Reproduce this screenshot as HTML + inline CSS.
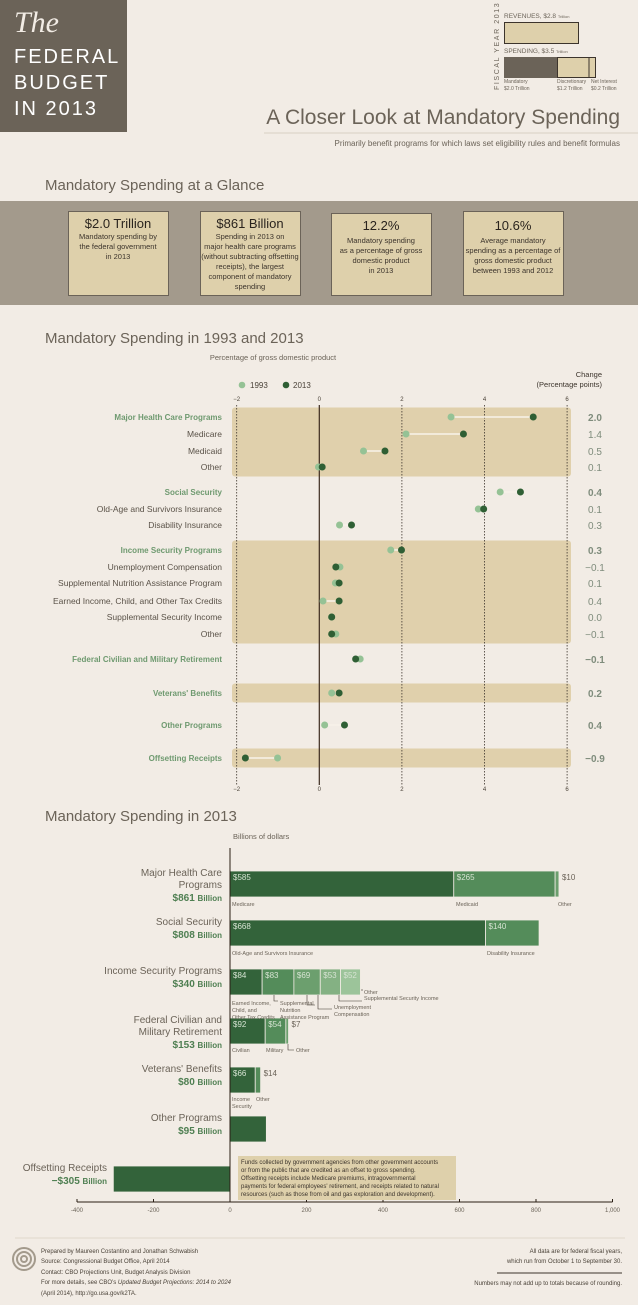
<!DOCTYPE html>
<html><head><meta charset="utf-8"><style>
html,body{margin:0;padding:0;background:#f2ece5;}
svg{display:block;font-family:"Liberation Sans Narrow","Liberation Sans",sans-serif;}
</style></head><body>
<svg id="s" width="638" height="1305" viewBox="0 0 638 1305" xmlns="http://www.w3.org/2000/svg">
<rect x="0" y="0" width="638" height="1305" fill="#f2ece5"/>
<g>
<rect x="0" y="0" width="127" height="132" fill="#6b6358"/>
<text x="14" y="32" font-family="Liberation Serif,serif" font-style="italic" font-size="30" fill="#f2ece5">The</text>
<text x="14" y="63" font-size="20" fill="#fff" letter-spacing="2" font-family="Liberation Sans,sans-serif">FEDERAL</text>
<text x="14" y="89" font-size="20" fill="#fff" letter-spacing="2" font-family="Liberation Sans,sans-serif">BUDGET</text>
<text x="14" y="115" font-size="20" fill="#fff" letter-spacing="2" font-family="Liberation Sans,sans-serif">IN 2013</text>
</g>
<g font-size="5.5" fill="#6b6358">
<text transform="translate(499,90) rotate(-90)" font-size="7" letter-spacing="1.6" fill="#6b6358">FISCAL YEAR 2013</text>
<text x="504" y="18" font-size="6.5">REVENUES, $2.8 <tspan font-size="4">Trillion</tspan></text>
<rect x="504.5" y="22.5" width="74" height="21" fill="#ded0ab" stroke="#3c342c" stroke-width="1"/>
<text x="504" y="53" font-size="6.5">SPENDING, $3.5 <tspan font-size="4">Trillion</tspan></text>
<rect x="504" y="57" width="53" height="21" fill="#6b6358"/>
<rect x="557.5" y="57.5" width="38" height="20" fill="#ded0ab" stroke="#3c342c"/>
<line x1="589" y1="57" x2="589" y2="78" stroke="#3c342c"/>
<text x="504" y="83" font-size="5">Mandatory</text><text x="504" y="90" font-size="5">$2.0 Trillion</text>
<text x="557" y="83" font-size="5">Discretionary</text><text x="557" y="90" font-size="5">$1.2 Trillion</text>
<text x="591" y="83" font-size="5">Net Interest</text><text x="591" y="90" font-size="5">$0.2 Trillion</text>
</g>
<text x="620" y="124" text-anchor="end" font-size="21" fill="#6b6358">A Closer Look at Mandatory Spending</text>
<line x1="264" y1="133" x2="638" y2="133" stroke="#d8cfc4"/>
<text x="620" y="146" text-anchor="end" font-size="8" fill="#6b6358">Primarily benefit programs for which laws set eligibility rules and benefit formulas</text>

<text x="45" y="190" font-size="15" fill="#6b6358">Mandatory Spending at a Glance</text>
<rect x="0" y="201" width="638" height="104" fill="#a39a8c"/>
<g id="cards" font-size="7.5" fill="#3c342c" text-anchor="middle"></g>

<text x="45" y="343" font-size="15" fill="#6b6358">Mandatory Spending in 1993 and 2013</text>
<text x="273" y="360" text-anchor="middle" font-size="7.5" fill="#6b6358">Percentage of gross domestic product</text>
<g id="dot"></g>

<text x="45" y="821" font-size="15" fill="#6b6358">Mandatory Spending in 2013</text>
<text x="233" y="839" font-size="7.5" fill="#6b6358">Billions of dollars</text>
<g id="bar"></g>

<line x1="15" y1="1238" x2="625" y2="1238" stroke="#e0d8cc"/>
<g fill="none" stroke="#a39a8c" stroke-width="2">
<circle cx="24" cy="1259" r="11"/><circle cx="24" cy="1259" r="7"/><circle cx="24" cy="1259" r="3"/>
</g>
<g font-size="6" fill="#4a4238">
<text x="41" y="1253">Prepared by Maureen Costantino and Jonathan Schwabish</text>
<text x="41" y="1263">Source: Congressional Budget Office, April 2014</text>
<text x="41" y="1274">Contact: CBO Projections Unit, Budget Analysis Division</text>
<text x="41" y="1284">For more details, see CBO’s <tspan font-style="italic">Updated Budget Projections: 2014 to 2024</tspan></text>
<text x="41" y="1295">(April 2014), http://go.usa.gov/k2TA.</text>
</g>
<g font-size="6" fill="#4a4238" text-anchor="end">
<text x="622" y="1253">All data are for federal fiscal years,</text>
<text x="622" y="1263">which run from October 1 to September 30.</text>
<line x1="497" y1="1273" x2="622" y2="1273" stroke="#3c342c"/>
<text x="622" y="1285">Numbers may not add up to totals because of rounding.</text>
</g>
</svg>
<script>
var NS="http://www.w3.org/2000/svg";
function mk(p,tag,at,txt){var e=document.createElementNS(NS,tag);for(var k in at)e.setAttribute(k,at[k]);if(txt!=null)e.textContent=txt;p.appendChild(e);return e;}

var cardTitles=["$2.0 Trillion","$861 Billion","12.2%","10.6%"];
var cardLines=[["Mandatory spending by","the federal government","in 2013"],["Spending in 2013 on","major health care programs","(without subtracting offsetting","receipts), the largest","component of mandatory","spending"],["Mandatory spending","as a percentage of gross","domestic product","in 2013"],["Average mandatory","spending as a percentage of","gross domestic product","between 1993 and 2012"]];
var cardX=[68,200,331,463],cardTop=[211,211,213,211];
var cg=document.getElementById('cards');
for(var i=0;i<4;i++){
  var g=mk(cg,'g',{});
  
  
  mk(g,'rect',{x:cardX[i]+0.5,y:cardTop[i]+0.5,width:100,height:84-(cardTop[i]-211),fill:'#ded0ab',stroke:'#6b6358'});
  var ty=i<2?228:230;
  mk(g,'text',{x:cardX[i]+50,y:ty,'font-size':13,fill:'#2a241e'},cardTitles[i]);
  for(var j=0;j<cardLines[i].length;j++) mk(g,'text',{x:cardX[i]+50,y:ty+11+j*10+(i>=2?2:0)},cardLines[i][j]);
}

var dotLabels=["Major Health Care Programs","Medicare","Medicaid","Other","Social Security","Old-Age and Survivors Insurance","Disability Insurance","Income Security Programs","Unemployment Compensation","Supplemental Nutrition Assistance Program","Earned Income, Child, and Other Tax Credits","Supplemental Security Income","Other","Federal Civilian and Military Retirement","Veterans' Benefits","Other Programs","Offsetting Receipts"];
var dotMajor=[1,0,0,0,1,0,0,1,0,0,0,0,0,1,1,1,1];
var v1993=[3.19,2.1,1.07,-0.02,4.38,3.85,0.49,1.73,0.5,0.39,0.09,0.3,0.4,0.99,0.3,0.13,-1.01];
var v2013=[5.18,3.49,1.59,0.07,4.87,3.98,0.78,1.99,0.4,0.48,0.48,0.3,0.3,0.88,0.48,0.61,-1.79];
var changeLabels=["2.0","1.4","0.5","0.1","0.4","0.1","0.3","0.3","\u22120.1","0.1","0.4","0.0","\u22120.1","\u22120.1","0.2","0.4","\u22120.9"];
var dotTicks=[-2,0,2,4,6];
var rowY=[417,434,451,467,492,509,525,550,567,583,601,617,634,659,693,725,758];
var bands=[[0,3],[7,12],[14,14],[16,16]];
function dx(v){return 319.3+v*41.3;}
var dg=document.getElementById('dot');
bands.forEach(function(b){
  var r=mk(dg,'rect',{x:232,y:rowY[b[0]]-9.5,width:339,height:rowY[b[1]]-rowY[b[0]]+19,rx:3,fill:'#e0d0ac'});
  
  
});
dotTicks.forEach(function(t){
  var l=mk(dg,'line',{x1:dx(t),x2:dx(t),y1:405,y2:785,stroke:t==0?'#3c2a1e':'#3c342c','stroke-width':t==0?1.2:0.8,'stroke-dasharray':t==0?'none':'1.5,1.5'});
  
  
  var a=mk(dg,'text',{x:dx(t),y:401,'font-size':6,'text-anchor':'middle',fill:'#4a4238'},t<0?'\u2212'+(-t):''+t);
  
  
  var b=mk(dg,'text',{x:dx(t),y:791,'font-size':6,'text-anchor':'middle',fill:'#4a4238'},t<0?'\u2212'+(-t):''+t);
  
  
});
var lg=mk(dg,'g',{'font-size':8,fill:'#4a4238'});


mk(lg,'circle',{cx:242,cy:385,r:3.3,fill:'#95c295'});
mk(lg,'text',{x:250,y:388},'1993');
mk(lg,'circle',{cx:286,cy:385,r:3.3,fill:'#2f5f34'});
mk(lg,'text',{x:293,y:388},'2013');
mk(dg,'text',{x:602,y:377,'font-size':7.5,'text-anchor':'end',fill:'#3c342c'},'Change');
mk(dg,'text',{x:602,y:387,'font-size':7.5,'text-anchor':'end',fill:'#3c342c'},'(Percentage points)');
for(var i=0;i<dotLabels.length;i++){
  var y=rowY[i];
  var t=mk(dg,'text',{x:222,y:y+3,'font-size':dotMajor[i]?8:8.5,'font-weight':dotMajor[i]?'bold':'normal','text-anchor':'end',fill:dotMajor[i]?'#6f9a70':'#5a5248'},dotLabels[i]);
  
  
  var ln=mk(dg,'line',{x1:dx(v1993[i]),x2:dx(v2013[i]),y1:y,y2:y,stroke:'#f7f2ea','stroke-width':1.5});
  
  
  var c1=mk(dg,'circle',{cx:dx(v1993[i]),cy:y,r:3.5,fill:'#95c295'});
  
  
  var c2=mk(dg,'circle',{cx:dx(v2013[i]),cy:y,r:3.5,fill:'#2f5f34'});
  
  
  var ch=mk(dg,'text',{x:595,y:y+4,'font-size':10,'font-weight':dotMajor[i]?'bold':'normal','text-anchor':'middle',fill:'#7f8c7c'},changeLabels[i]);
  
  
}

var barCats=[["Major Health Care","Programs"],["Social Security"],["Income Security Programs"],["Federal Civilian and","Military Retirement"],["Veterans' Benefits"],["Other Programs"],["Offsetting Receipts"]];
var barTotals=["$861","$808","$340","$153","$80","$95","\u2212$305"];
var segHealth=[585,265,10];
var segSS=[668,140];
var segIncome=[84,83,69,53,52];
var segRetire=[92,54,7];
var segVets=[66,14];
var segOther=[95];
var segOffset=[-305];
var barSegs=[segHealth,segSS,segIncome,segRetire,segVets,segOther,segOffset];
var barTicks=[-400,-200,0,200,400,600,800,1000];
var tickText=["-400","-200","0","200","400","600","800","1,000"];
var barTop=[871,920,969,1018,1067,1116,1166];
var segColors=['#33633a','#548c5a','#6c9f6e','#84b183','#9cc49a'];
function bx(v){return 230+v*0.3825;}
var bg=document.getElementById('bar');
for(var i=0;i<barSegs.length;i++){
  var segs=barSegs[i],acc=0,bTop=barTop[i];
  for(var j=0;j<segs.length;j++){
    var a=bx(acc),b=bx(acc+segs[j]);
    var r=mk(bg,'rect',{x:Math.min(a,b),y:bTop,width:Math.abs(b-a),height:26,fill:segColors[j],stroke:'#f2ece5','stroke-width':0.8});
    
    
    if(i<5){
      var w=Math.abs(b-a),inside=w>15;
      var lab=mk(bg,'text',{x:inside?Math.min(a,b)+3:Math.max(a,b)+3,y:bTop+9,'font-size':8,fill:inside?'#d6e3d2':'#6b6358'},'$'+segs[j]);
      
      
    }
    acc+=segs[j];
  }
  var lines=barCats[i],ly=i==6?1171:bTop+5,lx=i==6?107:222;
  for(var k=0;k<lines.length;k++){
    var t=mk(bg,'text',{x:lx,y:ly+k*12,'font-size':10,'text-anchor':'end',fill:'#6b6358'},lines[k]);
    
    
  }
  var tt=mk(bg,'text',{x:lx,y:ly+lines.length*12+1,'font-size':10,'font-weight':'bold','text-anchor':'end',fill:'#4f7f52'});
  
  
  tt.textContent=barTotals[i]+' ';
  mk(tt,'tspan',{'font-size':8},'Billion');
}
var subLab=[[232,906,"Medicare"],[456,906,"Medicaid"],[558,906,"Other"],[232,955,"Old-Age and Survivors Insurance"],[487,955,"Disability Insurance"],[232,1005,"Earned Income,"],[232,1012,"Child, and"],[232,1019,"Other Tax Credits"],[280,1005,"Supplemental"],[280,1012,"Nutrition"],[280,1019,"Assistance Program"],[334,1009,"Unemployment"],[334,1016,"Compensation"],[364,994,"Other"],[364,1000,"Supplemental Security Income"],[232,1052,"Civilian"],[266,1052,"Military"],[296,1052,"Other"],[232,1101,"Income"],[232,1108,"Security"],[256,1101,"Other"]];
subLab.forEach(function(s){var t=mk(bg,'text',{x:s[0],y:s[1],'font-size':5.5,fill:'#6b6358'},s[2]);
  
  });
var conn=["M274,995 v6 h4","M307,995 v10 h8","M318,995 v14 h14","M339,995 v6 h23","M361,990 h2","M288,1044 v6 h6"];
conn.forEach(function(d){var p=mk(bg,'path',{d:d,fill:'none',stroke:'#3c342c','stroke-width':0.6});
  
  });
var z=mk(bg,'line',{x1:230,x2:230,y1:848,y2:1202,stroke:'#2a1e14','stroke-width':1});


var ax=mk(bg,'line',{x1:bx(-400),x2:bx(1000),y1:1202,y2:1202,stroke:'#2a1e14','stroke-width':1});


for(var i=0;i<barTicks.length;i++){
  mk(bg,'line',{x1:bx(barTicks[i]),x2:bx(barTicks[i]),y1:1199,y2:1202,stroke:'#2a1e14'});
  var t=mk(bg,'text',{x:bx(barTicks[i]),y:1212,'font-size':6,'text-anchor':'middle',fill:'#6b6358'},tickText[i]);
  
  
}
var nb=mk(bg,'g',{'font-size':6,fill:'#3c342c'});


mk(nb,'rect',{x:238,y:1156,width:218,height:44,fill:'#ded0ab'});
["Funds collected by government agencies from other government accounts","or from the public that are credited as an offset to gross spending.","Offsetting receipts include Medicare premiums, intragovernmental","payments for federal employees' retirement, and receipts related to natural","resources (such as those from oil and gas exploration and development)."].forEach(function(s,k){mk(nb,'text',{x:241,y:1164+k*8},s);});
</script>
</body></html>
